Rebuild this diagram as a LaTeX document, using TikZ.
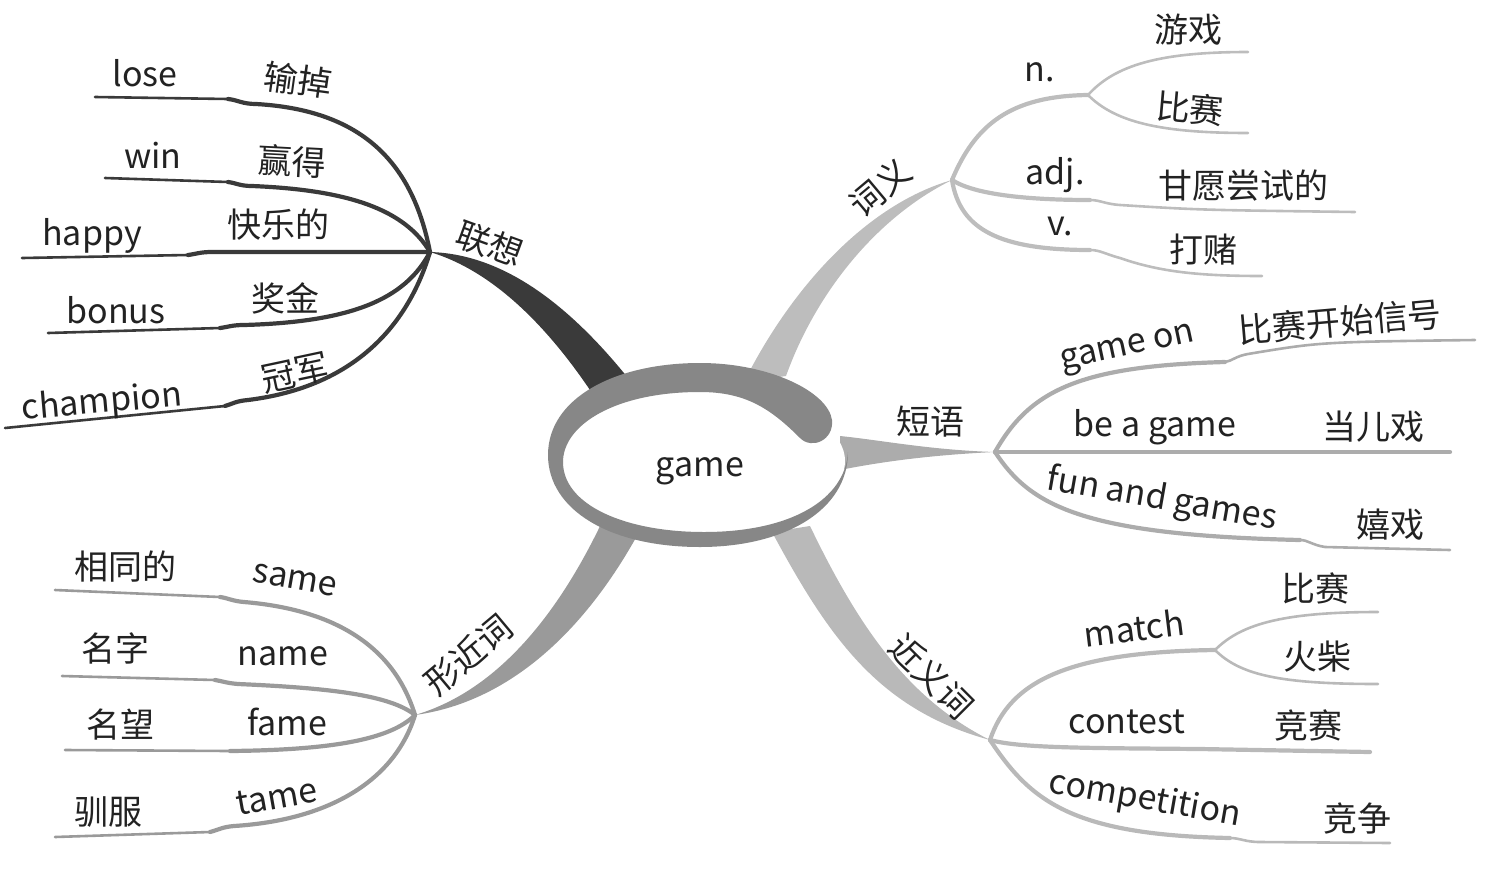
\documentclass[tikz,border=0pt]{standalone}
\usepackage{fontspec}
\setmainfont{Noto Sans CJK SC}
\usepackage{tikz}
\usetikzlibrary{calc}
\definecolor{assoc}{HTML}{3A3A3A}
\definecolor{meaning}{HTML}{BDBDBD}
\definecolor{phrase}{HTML}{ACACAC}
\definecolor{synonym}{HTML}{B9B9B9}
\definecolor{lookalike}{HTML}{9A9A9A}
\definecolor{ring}{HTML}{878787}
\definecolor{ink}{HTML}{222222}

\begin{document}
\begin{tikzpicture}[x=0.5pt,y=-0.5pt,
  word/.style={text=ink,inner sep=0pt,font=\fontsize{17}{20}\selectfont},
  twig/.style={line width=1.3pt,line cap=round},
  limb/.style={line width=2.1pt,line cap=round}]
\useasboundingbox (0,0) rectangle (1488,868);

\coordinate (assoc-hub) at (430,252);
\coordinate (mean-hub) at (952,180);
\coordinate (phrase-hub) at (995,452);
\coordinate (syn-hub) at (990,740);
\coordinate (look-hub) at (415,715);

\fill[assoc] (assoc-hub) .. controls (500,254) and (565,300) .. (628,378) -- (594,396) .. controls (545,322) and (490,270) .. (assoc-hub);
\fill[meaning] (mean-hub) .. controls (865,205) and (790,290) .. (744,382) -- (786,376) .. controls (815,295) and (875,218) .. (mean-hub);
\fill[phrase] (phrase-hub) .. controls (930,450) and (880,440) .. (840,436) -- (840,470) .. controls (880,462) and (930,455) .. (phrase-hub);
\fill[synonym] (syn-hub) .. controls (880,710) and (830,640) .. (772,532) -- (810,526) .. controls (860,630) and (910,700) .. (syn-hub);
\fill[lookalike] (look-hub) .. controls (500,690) and (560,610) .. (602,522) -- (638,534) .. controls (585,630) and (510,702) .. (look-hub);

\fill[white] (704,461) ellipse [x radius=141, y radius=69];
\fill[ring] (848,452) .. controls (848,510) and (785,547) .. (700,547)
  .. controls (610,547) and (548,510) .. (548,455)
  .. controls (548,398) and (615,363) .. (700,363)
  .. controls (770,363) and (828,392) .. (832,420)
  .. controls (834,440) and (812,450) .. (800,438)
  .. controls (770,408) and (745,392) .. (700,392)
  .. controls (615,392) and (563,425) .. (563,462)
  .. controls (563,505) and (625,532) .. (704,532)
  .. controls (790,532) and (845,500) .. (848,452) -- cycle;
\node[word] (game) at (700,471) {game};

\draw[assoc,twig] (95,97) coordinate (lose-end) -- (228,99) coordinate (lose-step);
\draw[assoc,limb] (lose-step) .. controls (238,100) and (242,104) .. (256,104) .. controls (360,110) and (412,160) .. (assoc-hub);
\draw[assoc,twig] (105,178) coordinate (win-end) -- (228,182) coordinate (win-step);
\draw[assoc,limb] (win-step) .. controls (236,183) and (240,186) .. (252,186) .. controls (350,190) and (405,210) .. (assoc-hub);
\draw[assoc,twig] (22,258) coordinate (happy-end) -- (188,255) coordinate (happy-step);
\draw[assoc,limb] (happy-step) .. controls (196,254) and (200,252) .. (212,252) -- (assoc-hub);
\draw[assoc,twig] (48,333) coordinate (bonus-end) -- (220,328) coordinate (bonus-step);
\draw[assoc,limb] (bonus-step) .. controls (228,327) and (232,325) .. (244,325) .. controls (350,322) and (405,300) .. (assoc-hub);
\draw[assoc,twig] (5,428) coordinate (champ-end) -- (225,406) coordinate (champ-step);
\draw[assoc,limb] (champ-step) .. controls (232,404) and (236,401) .. (248,400) .. controls (345,388) and (405,335) .. (assoc-hub);

\draw[meaning,limb] (mean-hub) .. controls (975,125) and (1010,96) .. (1088,95) coordinate (n-hub);
\draw[meaning,twig] (n-hub) .. controls (1115,65) and (1160,52) .. (1248,52) coordinate (youxi-end);
\draw[meaning,twig] (n-hub) .. controls (1115,122) and (1160,133) .. (1248,133) coordinate (bisai-end);
\draw[meaning,limb] (mean-hub) .. controls (975,195) and (1030,200) .. (1090,200) coordinate (adj-step);
\draw[meaning,twig] (adj-step) .. controls (1100,200) and (1105,204) .. (1120,205) .. controls (1200,210) .. (1355,212) coordinate (adj-end);
\draw[meaning,limb] (mean-hub) .. controls (960,230) and (1000,250) .. (1090,250) coordinate (v-step);
\draw[meaning,twig] (v-step) .. controls (1100,250) and (1105,254) .. (1120,258) .. controls (1160,272) and (1200,276) .. (1262,276) coordinate (v-end);

\draw[phrase,limb] (phrase-hub) .. controls (1030,390) and (1080,366) .. (1225,362) coordinate (on-step);
\draw[phrase,twig] (on-step) .. controls (1232,361) and (1236,356) .. (1248,354) .. controls (1320,342) .. (1475,340) coordinate (on-end);
\draw[phrase,limb] (phrase-hub) -- (1450,452) coordinate (be-end);
\draw[phrase,limb] (phrase-hub) .. controls (1030,505) and (1080,535) .. (1300,540) coordinate (fun-step);
\draw[phrase,twig] (fun-step) .. controls (1308,540) and (1312,545) .. (1325,547) -- (1450,550) coordinate (fun-end);

\draw[synonym,limb] (syn-hub) .. controls (1010,680) and (1070,652) .. (1215,650) coordinate (match-hub);
\draw[synonym,twig] (match-hub) .. controls (1240,625) and (1280,612) .. (1378,612) coordinate (match1-end);
\draw[synonym,twig] (match-hub) .. controls (1240,675) and (1280,684) .. (1378,684) coordinate (match2-end);
\draw[synonym,limb] (syn-hub) .. controls (1020,748) and (1080,748) .. (1200,749) -- (1370,752) coordinate (contest-end);
\draw[synonym,limb] (syn-hub) .. controls (1030,800) and (1070,835) .. (1230,838) coordinate (comp-step);
\draw[synonym,twig] (comp-step) .. controls (1240,838) and (1245,842) .. (1260,842) -- (1390,843) coordinate (comp-end);

\draw[lookalike,twig] (55,590) coordinate (same-end) -- (220,597) coordinate (same-step);
\draw[lookalike,limb] (same-step) .. controls (228,598) and (232,601) .. (244,602) .. controls (340,610) and (395,650) .. (look-hub);
\draw[lookalike,twig] (62,676) coordinate (name-end) -- (215,680) coordinate (name-step);
\draw[lookalike,limb] (name-step) .. controls (222,681) and (226,683) .. (238,684) .. controls (330,688) and (390,695) .. (look-hub);
\draw[lookalike,twig] (65,750) coordinate (fame-end) -- (230,751) coordinate (fame-step);
\draw[lookalike,limb] (fame-step) .. controls (330,750) and (390,740) .. (look-hub);
\draw[lookalike,twig] (55,837) coordinate (tame-end) -- (210,832) coordinate (tame-step);
\draw[lookalike,limb] (tame-step) .. controls (218,830) and (222,827) .. (234,826) .. controls (330,820) and (395,780) .. (look-hub);

\node[word,rotate=-20] (assoc) at (490,244) {联想};
\node[word] (lose) at (145,73) {lose};
\node[word,rotate=-8] (lose-cn) at (298,80) {输掉};
\node[word] (win) at (153,155) {win};
\node[word,rotate=-3] (win-cn) at (292,161) {赢得};
\node[word] (happy) at (92,236) {happy};
\node[word] (happy-cn) at (278,225) {快乐的};
\node[word] (bonus) at (116,310) {bonus};
\node[word] (bonus-cn) at (285,298) {奖金};
\node[word,rotate=5] (champ) at (102,403) {champion};
\node[word,rotate=12] (champ-cn) at (295,373) {冠军};

\node[word,rotate=40] (meaning) at (880,188) {词义};
\node[word] (n) at (1040,72) {n.};
\node[word] (youxi) at (1188,30) {游戏};
\node[word,rotate=-5] (bisai) at (1190,108) {比赛};
\node[word] (adj) at (1055,175) {adj.};
\node[word] (ganyuan) at (1243,186) {甘愿尝试的};
\node[word] (v) at (1060,226) {v.};
\node[word] (dadu) at (1203,250) {打赌};

\node[word] (phrase) at (930,422) {短语};
\node[word,rotate=12] (on) at (1128,350) {game on};
\node[word,rotate=5] (on-cn) at (1340,322) {比赛开始信号};
\node[word] (be) at (1155,427) {be a game};
\node[word] (be-cn) at (1373,427) {当儿戏};
\node[word,rotate=-10] (fun) at (1162,500) {fun and games};
\node[word] (fun-cn) at (1390,525) {嬉戏};

\node[word,rotate=-45] (synonym) at (932,676) {近义词};
\node[word,rotate=7] (match) at (1134,628) {match};
\node[word] (match1) at (1315,588) {比赛};
\node[word] (match2) at (1317,657) {火柴};
\node[word] (contest) at (1127,722) {contest};
\node[word] (contest-cn) at (1308,725) {竞赛};
\node[word,rotate=-10] (comp) at (1145,800) {competition};
\node[word] (comp-cn) at (1357,818) {竞争};

\node[word,rotate=40] (lookalike) at (468,655) {形近词};
\node[word] (same-cn) at (125,567) {相同的};
\node[word,rotate=-10] (same) at (295,580) {same};
\node[word] (name-cn) at (115,648) {名字};
\node[word] (name) at (283,656) {name};
\node[word] (fame-cn) at (120,725) {名望};
\node[word] (fame) at (287,722) {fame};
\node[word] (tame-cn) at (108,812) {驯服};
\node[word,rotate=10] (tame) at (277,797) {tame};
\end{tikzpicture}
\end{document}
